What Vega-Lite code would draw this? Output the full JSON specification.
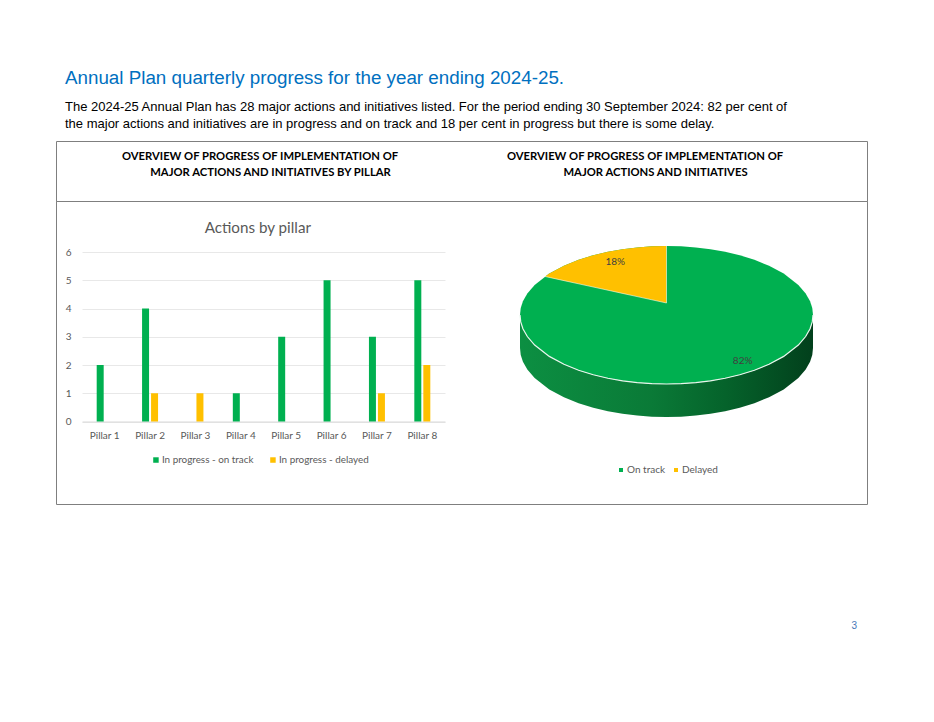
{
"$schema":"https://vega.github.io/schema/vega-lite/v6.json",
"background":"white",
"padding":{"left":55,"top":68,"right":10,"bottom":10},
"title":{"text":"Annual Plan quarterly progress for the year ending 2024-25.","subtitle":["The 2024-25 Annual Plan has 28 major actions and initiatives listed. For the period ending 30 September 2024: 82 per cent of","the major actions and initiatives are in progress and on track and 18 per cent in progress but there is some delay."],"anchor":"start","frame":"group","dx":9,"offset":10,"font":"Liberation Sans","fontSize":18.8,"fontWeight":"normal","color":"#0070c0","subtitleFont":"Liberation Sans","subtitleFontSize":13,"subtitleColor":"#000000","subtitlePadding":13,"subtitleLineHeight":17},
"spacing":0,
"bounds":"flush",
"vconcat":[
{"width":811,"height":60,"view":{"stroke":"#7f7f7f","strokeWidth":1},
"data":{"values":[
{"col":"left","line":"1","text":"OVERVIEW OF PROGRESS OF IMPLEMENTATION OF"},
{"col":"left","line":"2","text":"MAJOR ACTIONS AND INITIATIVES BY PILLAR"},
{"col":"right","line":"1","text":"OVERVIEW OF PROGRESS OF IMPLEMENTATION OF"},
{"col":"right","line":"2","text":"MAJOR ACTIONS AND INITIATIVES"}]},
"encoding":{
"x":{"field":"col","type":"nominal","axis":null,"scale":{"type":"point","padding":0,"domain":["left","right"],"range":[204,589]}},
"y":{"field":"line","type":"nominal","axis":null,"scale":{"type":"point","padding":0,"domain":["1","2"],"range":[16,32]}},
"text":{"field":"text"}},
"layer":[
{"transform":[{"filter":"datum.line === '1'"}],"mark":{"type":"text","font":"Lato","fontWeight":"bold","fontSize":11.25,"color":"#000000","align":"center"}},
{"transform":[{"filter":"datum.line === '2'"}],"mark":{"type":"text","font":"Lato","fontWeight":"bold","fontSize":11.25,"color":"#000000","align":"center","dx":10.5}}
]},
{"width":811,"height":303,"view":{"stroke":"#7f7f7f","strokeWidth":1},
"title":{"text":"3","orient":"bottom","anchor":"end","dx":-10,"offset":117,"font":"Liberation Sans","fontSize":10,"fontWeight":"normal","color":"#4a78b8"},
"layer":[
{"layer":[
{"data":{"name":"bars","values":[
{"pillar":"Pillar 1","status":"In progress - on track","actions":2},
{"pillar":"Pillar 2","status":"In progress - on track","actions":4},
{"pillar":"Pillar 3","status":"In progress - on track","actions":0},
{"pillar":"Pillar 4","status":"In progress - on track","actions":1},
{"pillar":"Pillar 5","status":"In progress - on track","actions":3},
{"pillar":"Pillar 6","status":"In progress - on track","actions":5},
{"pillar":"Pillar 7","status":"In progress - on track","actions":3},
{"pillar":"Pillar 8","status":"In progress - on track","actions":5}]},
"mark":{"type":"bar","size":7,"xOffset":-4.5},
"encoding":{
"x":{"field":"pillar","type":"nominal","scale":{"type":"band","range":[26,389],"domain":["Pillar 1","Pillar 2","Pillar 3","Pillar 4","Pillar 5","Pillar 6","Pillar 7","Pillar 8"],"paddingInner":0,"paddingOuter":0},"axis":{"title":null,"offset":-82.5,"labelAngle":0,"ticks":false,"domainColor":"#d9d9d9","labelFont":"Lato","labelFontSize":10,"labelColor":"#595959","labelPadding":9,"grid":false}},
"y":{"field":"actions","type":"quantitative","stack":null,"scale":{"domain":[0,6],"range":[220.5,51],"nice":false},"axis":{"title":null,"offset":-26,"values":[0,1,2,3,4,5,6],"ticks":false,"domain":false,"grid":true,"gridColor":"#e8e8e8","labelFont":"Lato","labelFontSize":10,"labelColor":"#595959","labelPadding":11}},
"color":{"field":"status","type":"nominal","scale":{"domain":["In progress - on track","In progress - delayed"],"range":["#00b050","#ffc000"]},"legend":{"title":null,"orient":"none","direction":"horizontal","legendX":95,"legendY":254,"symbolType":"square","symbolSize":30,"labelOffset":1,"labelFont":"Lato","labelFontSize":9.9,"labelColor":"#595959","columnPadding":14}}}},
{"data":{"values":[
{"pillar":"Pillar 1","status":"In progress - delayed","actions":0},
{"pillar":"Pillar 2","status":"In progress - delayed","actions":1},
{"pillar":"Pillar 3","status":"In progress - delayed","actions":1},
{"pillar":"Pillar 4","status":"In progress - delayed","actions":0},
{"pillar":"Pillar 5","status":"In progress - delayed","actions":0},
{"pillar":"Pillar 6","status":"In progress - delayed","actions":0},
{"pillar":"Pillar 7","status":"In progress - delayed","actions":1},
{"pillar":"Pillar 8","status":"In progress - delayed","actions":2}]},
"mark":{"type":"bar","size":7,"xOffset":4.5},
"encoding":{
"x":{"field":"pillar","type":"nominal"},
"y":{"field":"actions","type":"quantitative","stack":null},
"color":{"field":"status","type":"nominal"}}},
{"data":{"values":[{"pillar":"Pillar 4","caption":"Actions by pillar"}]},
"mark":{"type":"text","font":"Lato","fontSize":15.2,"color":"#595959","align":"center","dx":17,"dy":-24},
"encoding":{"x":{"field":"pillar","type":"nominal"},"y":{"datum":6},"text":{"field":"caption"}}}
]},
{"layer":[
{"data":{"values":[
{"x":-1,"edge":0,"low":-0.478},{"x":-0.995,"edge":-0.1,"low":-0.578},{"x":-0.98,"edge":-0.199,"low":-0.677},{"x":-0.95,"edge":-0.312,"low":-0.79},{"x":-0.9,"edge":-0.436,"low":-0.914},{"x":-0.8,"edge":-0.6,"low":-1.078},{"x":-0.7,"edge":-0.714,"low":-1.192},{"x":-0.6,"edge":-0.8,"low":-1.278},{"x":-0.5,"edge":-0.866,"low":-1.344},{"x":-0.4,"edge":-0.917,"low":-1.395},{"x":-0.3,"edge":-0.954,"low":-1.432},{"x":-0.2,"edge":-0.98,"low":-1.458},{"x":-0.1,"edge":-0.995,"low":-1.473},{"x":0,"edge":-1,"low":-1.478},{"x":0.1,"edge":-0.995,"low":-1.473},{"x":0.2,"edge":-0.98,"low":-1.458},{"x":0.3,"edge":-0.954,"low":-1.432},{"x":0.4,"edge":-0.917,"low":-1.395},{"x":0.5,"edge":-0.866,"low":-1.344},{"x":0.6,"edge":-0.8,"low":-1.278},{"x":0.7,"edge":-0.714,"low":-1.192},{"x":0.8,"edge":-0.6,"low":-1.078},{"x":0.9,"edge":-0.436,"low":-0.914},{"x":0.95,"edge":-0.312,"low":-0.79},{"x":0.98,"edge":-0.199,"low":-0.677},{"x":0.995,"edge":-0.1,"low":-0.578},{"x":1,"edge":0,"low":-0.478}]},
"layer":[
{"mark":{"type":"area","color":{"gradient":"linear","x1":0,"y1":0,"x2":1,"y2":0,"stops":[{"offset":0,"color":"#0c8f42"},{"offset":0.45,"color":"#0a7a37"},{"offset":0.7,"color":"#05632b"},{"offset":1,"color":"#02401c"}]}},
"encoding":{
"x":{"field":"x","type":"quantitative","axis":null,"scale":{"domain":[-1,1],"range":[464,757],"nice":false,"zero":false}},
"y":{"field":"edge","type":"quantitative","stack":null,"axis":null,"scale":{"domain":[-1.5,1],"range":[217.5,45],"nice":false,"zero":false}},
"y2":{"field":"low"}}}
]},
{"data":{"values":[
{"slice":"On track","x":-1,"top":0,"bot":0},{"slice":"On track","x":-0.995,"top":0.1,"bot":-0.1},{"slice":"On track","x":-0.98,"top":0.199,"bot":-0.199},{"slice":"On track","x":-0.95,"top":0.312,"bot":-0.312},{"slice":"On track","x":-0.9,"top":0.436,"bot":-0.436},{"slice":"On track","x":-0.8,"top":0.6,"bot":-0.6},{"slice":"On track","x":-0.7,"top":0.714,"bot":-0.714},{"slice":"On track","x":-0.6,"top":0.8,"bot":-0.8},{"slice":"On track","x":-0.5,"top":0.866,"bot":-0.866},{"slice":"On track","x":-0.4,"top":0.917,"bot":-0.917},{"slice":"On track","x":-0.3,"top":0.954,"bot":-0.954},{"slice":"On track","x":-0.2,"top":0.98,"bot":-0.98},{"slice":"On track","x":-0.1,"top":0.995,"bot":-0.995},{"slice":"On track","x":0,"top":1,"bot":-1},{"slice":"On track","x":0.1,"top":0.995,"bot":-0.995},{"slice":"On track","x":0.2,"top":0.98,"bot":-0.98},{"slice":"On track","x":0.3,"top":0.954,"bot":-0.954},{"slice":"On track","x":0.4,"top":0.917,"bot":-0.917},{"slice":"On track","x":0.5,"top":0.866,"bot":-0.866},{"slice":"On track","x":0.6,"top":0.8,"bot":-0.8},{"slice":"On track","x":0.7,"top":0.714,"bot":-0.714},{"slice":"On track","x":0.8,"top":0.6,"bot":-0.6},{"slice":"On track","x":0.9,"top":0.436,"bot":-0.436},{"slice":"On track","x":0.95,"top":0.312,"bot":-0.312},{"slice":"On track","x":0.98,"top":0.199,"bot":-0.199},{"slice":"On track","x":0.995,"top":0.1,"bot":-0.1},{"slice":"On track","x":1,"top":0,"bot":0},
{"slice":"Delayed","x":-0.829,"top":0.558,"bot":0.558},{"slice":"Delayed","x":-0.8,"top":0.6,"bot":0.544},{"slice":"Delayed","x":-0.7,"top":0.714,"bot":0.498},{"slice":"Delayed","x":-0.6,"top":0.8,"bot":0.452},{"slice":"Delayed","x":-0.5,"top":0.866,"bot":0.406},{"slice":"Delayed","x":-0.4,"top":0.917,"bot":0.359},{"slice":"Delayed","x":-0.3,"top":0.954,"bot":0.313},{"slice":"Delayed","x":-0.2,"top":0.98,"bot":0.267},{"slice":"Delayed","x":-0.1,"top":0.995,"bot":0.22},{"slice":"Delayed","x":0,"top":1,"bot":0.174}]},
"mark":{"type":"area"},
"encoding":{
"x":{"field":"x","type":"quantitative"},
"y":{"field":"top","type":"quantitative","stack":null},
"y2":{"field":"bot"},
"color":{"field":"slice","type":"nominal","sort":null,"scale":{"domain":["On track","Delayed"],"range":["#00b050","#ffc000"]},"legend":{"title":null,"orient":"none","direction":"horizontal","legendX":560,"legendY":264,"symbolType":"square","symbolSize":16,"labelOffset":1,"labelFont":"Lato","labelFontSize":10,"labelColor":"#595959","columnPadding":5,"symbolOpacity":1}}}},
{"data":{"values":[
{"x":-1,"edge":0},{"x":-0.995,"edge":-0.1},{"x":-0.98,"edge":-0.199},{"x":-0.95,"edge":-0.312},{"x":-0.9,"edge":-0.436},{"x":-0.8,"edge":-0.6},{"x":-0.7,"edge":-0.714},{"x":-0.6,"edge":-0.8},{"x":-0.5,"edge":-0.866},{"x":-0.4,"edge":-0.917},{"x":-0.3,"edge":-0.954},{"x":-0.2,"edge":-0.98},{"x":-0.1,"edge":-0.995},{"x":0,"edge":-1},{"x":0.1,"edge":-0.995},{"x":0.2,"edge":-0.98},{"x":0.3,"edge":-0.954},{"x":0.4,"edge":-0.917},{"x":0.5,"edge":-0.866},{"x":0.6,"edge":-0.8},{"x":0.7,"edge":-0.714},{"x":0.8,"edge":-0.6},{"x":0.9,"edge":-0.436},{"x":0.95,"edge":-0.312},{"x":0.98,"edge":-0.199},{"x":0.995,"edge":-0.1},{"x":1,"edge":0}]},
"mark":{"type":"line","color":"#e8f5ec","strokeWidth":1.2},
"encoding":{"x":{"field":"x","type":"quantitative"},"y":{"field":"edge","type":"quantitative"}}},
{"data":{"values":[{"x":-0.829,"y":0.558,"xEnd":0,"yEnd":0.174},{"x":0,"y":0.174,"xEnd":0,"yEnd":1}]},
"mark":{"type":"rule","color":"#ffffff","strokeWidth":0.7,"opacity":0.8},
"encoding":{"x":{"field":"x","type":"quantitative"},"y":{"field":"y","type":"quantitative"},"x2":{"field":"xEnd"},"y2":{"field":"yEnd"}}},
{"data":{"values":[{"slice":"On track","share":"82%","x":0.52,"y":-0.67},{"slice":"Delayed","share":"18%","x":-0.35,"y":0.77}]},
"mark":{"type":"text","font":"Lato","fontSize":10,"color":"#404040"},
"encoding":{"x":{"field":"x","type":"quantitative"},"y":{"field":"y","type":"quantitative"},"text":{"field":"share"}}}
]}
],
"resolve":{"scale":{"x":"independent","y":"independent","color":"independent"}}}
]}
